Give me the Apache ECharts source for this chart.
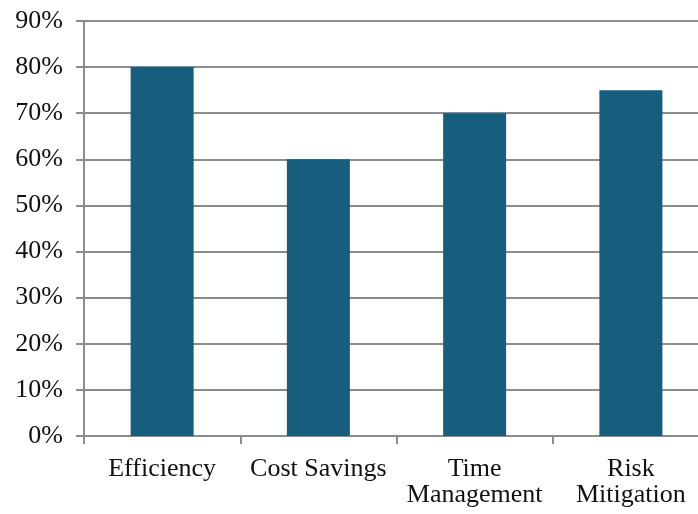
<!DOCTYPE html>
<html>
<head>
<meta charset="utf-8">
<script src="https://cdn.jsdelivr.net/npm/echarts@6/dist/echarts.min.js"></script>
<style>
html,body{margin:0;padding:0;background:#fff;overflow:hidden;}
#chart{width:709px;height:514px;}
</style>
</head>
<body>
<div id="chart"></div>
<script>
// Share of respondents reporting each benefit
const categories = ['Efficiency', 'Cost Savings', 'Time\nManagement', 'Risk\nMitigation'];
const values = [80, 60, 70, 75];
const yTicks = [0, 10, 20, 30, 40, 50, 60, 70, 80, 90];

const chart = echarts.init(document.getElementById('chart'));
const axisGray = '#8c8c8c';
const font = '"Liberation Serif", "Times New Roman", serif';

chart.setOption({
  animation: false,
  backgroundColor: '#ffffff',
  // plot area runs slightly past the right edge of the visible page
  grid: { left: 84, top: 21, right: 0, bottom: 78, containLabel: false },
  xAxis: {
    type: 'category',
    data: categories,
    axisLine: { lineStyle: { color: axisGray, width: 2 } },
    axisTick: { show: true, length: 8, lineStyle: { color: axisGray, width: 2 } },
    axisLabel: {
      color: '#111',
      fontFamily: font,
      fontSize: 26,
      lineHeight: 26,
      margin: 20,
      interval: 0
    }
  },
  yAxis: {
    type: 'value',
    min: yTicks[0],
    max: yTicks[yTicks.length - 1],
    interval: 10,
    axisLine: { show: true, lineStyle: { color: axisGray, width: 2 } },
    axisTick: { show: true, length: 8, lineStyle: { color: axisGray, width: 2 } },
    splitLine: { show: true, lineStyle: { color: axisGray, width: 2 } },
    axisLabel: {
      color: '#111',
      fontFamily: font,
      fontSize: 26,
      margin: 21,
      formatter: v => v + '%'
    }
  },
  series: [{
    type: 'bar',
    data: values,
    barWidth: 63,
    itemStyle: { color: '#175e7e' }
  }]
});
</script>
</body>
</html>
